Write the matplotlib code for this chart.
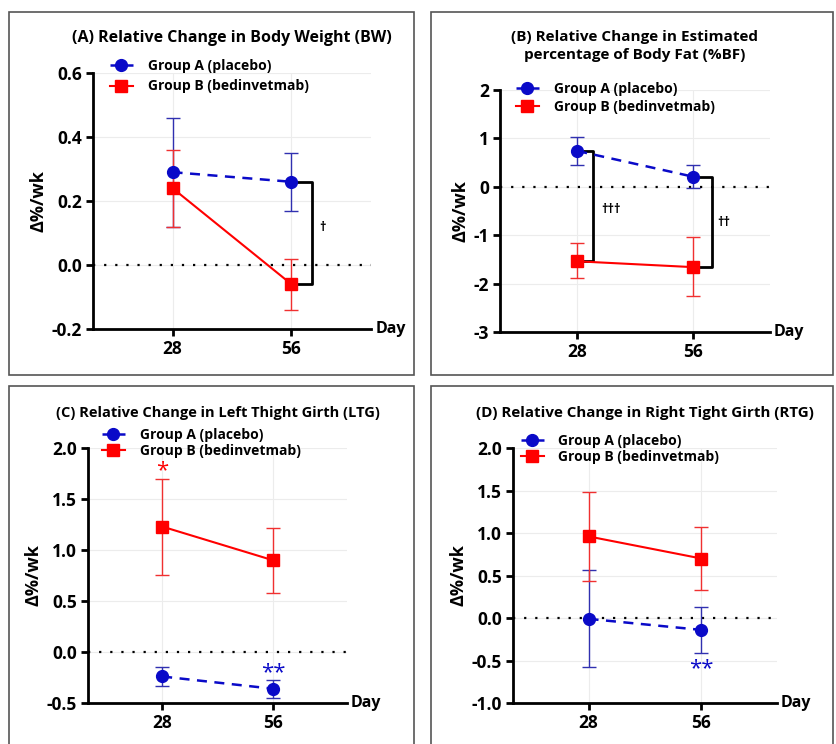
import matplotlib
matplotlib.use('Agg')
import matplotlib.pyplot as plt
from matplotlib.patches import Rectangle

plt.rcParams['font.family'] = ['Open Sans', 'DejaVu Sans']
plt.rcParams['font.weight'] = 'bold'

days = ['28', '56']
labels = ['Group A (placebo)', 'Group B (bedinvetmab)']
titles = ['(A) Relative Change in Body Weight (BW)',
          '(B) Relative Change in Estimated\npercentage of Body Fat (%BF)',
          '(C) Relative Change in Left Thight Girth (LTG)',
          '(D) Relative Change in Right Tight Girth (RTG)']

# mean, lower, upper per day
bw_a = [0.29, 0.26]
bw_a_lo = [0.12, 0.17]
bw_a_hi = [0.46, 0.35]
bw_b = [0.24, -0.06]
bw_b_lo = [0.12, -0.14]
bw_b_hi = [0.36, 0.02]

bf_a = [0.74, 0.21]
bf_a_lo = [0.45, -0.03]
bf_a_hi = [1.03, 0.45]
bf_b = [-1.54, -1.66]
bf_b_lo = [-1.89, -2.26]
bf_b_hi = [-1.17, -1.04]

ltg_a = [-0.24, -0.36]
ltg_a_lo = [-0.33, -0.45]
ltg_a_hi = [-0.15, -0.27]
ltg_b = [1.23, 0.90]
ltg_b_lo = [0.76, 0.58]
ltg_b_hi = [1.70, 1.22]

rtg_a = [-0.01, -0.14]
rtg_a_lo = [-0.58, -0.41]
rtg_a_hi = [0.56, 0.13]
rtg_b = [0.96, 0.70]
rtg_b_lo = [0.44, 0.33]
rtg_b_hi = [1.48, 1.07]

BLUE = '#0a0ac8'
RED = '#ff0000'

fig = plt.figure(figsize=(8.36, 7.44), dpi=100)

# panel frames
for x0, y0, w, h in [(9, 12, 405, 363), (431, 12, 402, 363), (9, 386, 405, 360), (431, 386, 402, 360)]:
    fig.patches.append(Rectangle((x0 / 836, 1 - (y0 + h) / 744), w / 836, h / 744,
                                 transform=fig.transFigure, fill=False, ec='#555555', lw=1.2))


def panel(rect, a, a_lo, a_hi, b, b_lo, b_hi, ylim, yticks, fmt, title, title_y, title_fs, leg_xy, leg_sp):
    ax = fig.add_axes(rect)
    x = [0, 1]
    ax.errorbar(x, a, yerr=[[m - l for m, l in zip(a, a_lo)], [h - m for m, h in zip(a, a_hi)]],
                fmt='none', ecolor='#3030b0', elinewidth=1, capsize=5, capthick=1, zorder=3)
    ax.errorbar(x, b, yerr=[[m - l for m, l in zip(b, b_lo)], [h - m for m, h in zip(b, b_hi)]],
                fmt='none', ecolor='#f03030', elinewidth=1, capsize=5, capthick=1, zorder=3)
    la, = ax.plot(x, a, color=BLUE, ls=(0, (4, 3)), lw=1.8, marker='o', ms=8.5, zorder=5, label=labels[0])
    lb, = ax.plot(x, b, color=RED, ls='-', lw=1.5, marker='s', ms=8.5, zorder=4, label=labels[1])
    ax.axhline(0, color='black', ls=(0, (1, 4)), lw=1.6, zorder=2)
    ax.set_xlim(-0.67, 1.67)
    ax.set_ylim(*ylim)
    ax.set_yticks(yticks)
    ax.set_yticklabels([fmt.format(t) for t in yticks])
    ax.set_xticks(x)
    ax.set_xticklabels(days)
    ax.grid(True, color='#ececec', lw=0.8, zorder=0)
    ax.spines[['top', 'right']].set_visible(False)
    for s in ['left', 'bottom']:
        ax.spines[s].set_linewidth(2)
    ax.tick_params(width=2, length=5, labelsize=12.5, pad=3)
    for t in ax.get_xticklabels() + ax.get_yticklabels():
        t.set_fontweight('bold')
    ax.set_ylabel('Δ%/wk', fontsize=13, fontweight='bold', labelpad=3)
    ax.text(1.015, 0, 'Day', transform=ax.transAxes, fontsize=11.5, fontweight='bold', va='center', ha='left')
    pos = ax.get_position()
    fig.text(pos.x0 + pos.width / 2, 1 - title_y / 744, title, ha='center', va='center',
             fontsize=title_fs, fontweight='bold', linespacing=1.35)
    fig.legend(handles=[la, lb], loc='center left',
               bbox_to_anchor=(leg_xy[0] / 836, 1 - leg_xy[1] / 744),
               frameon=False, handlelength=1.65, handletextpad=1.05,
               labelspacing=leg_sp, borderpad=0, borderaxespad=0, prop={'weight': 'bold', 'size': 10})
    return ax


def bracket(ax, xi, y1, y2, off):
    ax.plot([xi + 0.05, xi + off, xi + off, xi + 0.05], [y1, y1, y2, y2], color='black', lw=2, zorder=3)


axA = panel([0.1112, 0.5578, 0.3326, 0.3441], bw_a, bw_a_lo, bw_a_hi, bw_b, bw_b_lo, bw_b_hi,
            (-0.2, 0.6), [-0.2, 0.0, 0.2, 0.4, 0.6], '{:.1f}', titles[0], 38, 11.5, (110, 76), 0.5)
bracket(axA, 1, bw_a[1], bw_b[1], 0.17)
axA.text(1.26, 0.116, '†', fontsize=9, ha='center', va='center')

axB = panel([0.598, 0.5538, 0.323, 0.3253], bf_a, bf_a_lo, bf_a_hi, bf_b, bf_b_lo, bf_b_hi,
            (-3, 2), [-3, -2, -1, 0, 1, 2], '{:.0f}', titles[1], 46, 11, (516, 98), 0.27)
bracket(axB, 0, bf_a[0], bf_b[0], 0.14)
bracket(axB, 1, bf_a[1], bf_b[1], 0.165)
axB.text(0.29, -0.46, '†††', fontsize=9, ha='center', va='center')
axB.text(1.27, -0.73, '††', fontsize=9, ha='center', va='center')

axC = panel([0.1053, 0.0551, 0.3098, 0.3427], ltg_a, ltg_a_lo, ltg_a_hi, ltg_b, ltg_b_lo, ltg_b_hi,
            (-0.5, 2.0), [-0.5, 0.0, 0.5, 1.0, 1.5, 2.0], '{:.1f}', titles[2], 413, 10.5, (102, 443), 0.18)
axC.text(0, 1.78, '*', color=RED, fontsize=16, fontweight='normal', ha='center', va='center')
axC.text(1, -0.2, '**', color=BLUE, fontsize=16, fontweight='normal', ha='center', va='center')

axD = panel([0.6136, 0.0551, 0.3158, 0.3427], rtg_a, rtg_a_lo, rtg_a_hi, rtg_b, rtg_b_lo, rtg_b_hi,
            (-1.0, 2.0), [-1.0, -0.5, 0.0, 0.5, 1.0, 1.5, 2.0], '{:.1f}', titles[3], 413, 10.9, (521, 449), 0.18)
axD.text(1, -0.6, '**', color=BLUE, fontsize=16, fontweight='normal', ha='center', va='center')

fig.savefig('out.png', dpi=100)
